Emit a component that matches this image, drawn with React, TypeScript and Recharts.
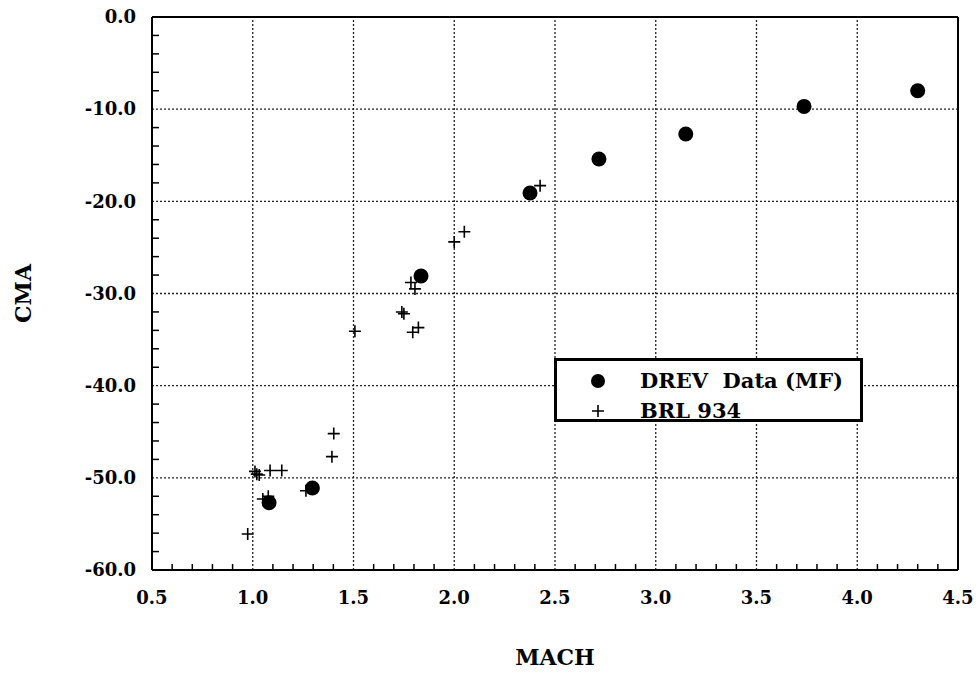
import React from "react";
import {
  Label,
  Legend,
  ReferenceLine,
  Scatter,
  ScatterChart,
  XAxis,
  YAxis,
} from "recharts";

// DREV measurements (filled circles)
const drevMach = [1.081, 1.296, 1.835, 2.376, 2.718, 3.149, 3.736, 4.3];
const drevCma = [-52.7, -51.1, -28.1, -19.1, -15.4, -12.7, -9.7, -8.0];

// BRL 934 points (plus markers)
const brlMach = [
  0.975, 1.011, 1.02, 1.032, 1.05, 1.077, 1.086, 1.144, 1.264, 1.393, 1.402,
  1.507, 1.74, 1.75, 1.785, 1.794, 1.805, 1.822, 2.0, 2.05, 2.426,
];
const brlCma = [
  -56.1, -49.3, -49.6, -49.7, -52.3, -52.0, -49.2, -49.2, -51.4, -47.7, -45.2,
  -34.1, -32.0, -32.2, -28.8, -34.2, -29.5, -33.7, -24.4, -23.3, -18.3,
];

const xMajorTicks = [0.5, 1.0, 1.5, 2.0, 2.5, 3.0, 3.5, 4.0, 4.5];
const yMajorTicks = [-60, -50, -40, -30, -20, -10, 0];
const xMinorTicks = Array.from({ length: 41 }, (_, i) => Math.round((0.5 + i * 0.1) * 10) / 10);
const yMinorTicks = Array.from({ length: 31 }, (_, i) => -60 + i * 2);

const drevData = drevMach.map((m, i) => ({ mach: m, cma: drevCma[i] }));
const brlData = brlMach.map((m, i) => ({ mach: m, cma: brlCma[i] }));

const font = "'DejaVu Serif', serif";
const ink = "#000";

const isMajor = (v: number, list: number[]) => list.some((t) => Math.abs(t - v) < 1e-6);

function XTick(props: any) {
  const { x, y, payload } = props;
  const v = payload.value as number;
  const major = isMajor(v, xMajorTicks);
  return (
    <g>
      {!major && <line x1={x} x2={x} y1={y} y2={y - 6} stroke={ink} strokeWidth={1.5} />}
      {major && (
        <text x={x} y={y + 28} dy="0.35em" textAnchor="middle" fontFamily={font} fontWeight="bold" fontSize={18} fill={ink}>
          {v.toFixed(1)}
        </text>
      )}
    </g>
  );
}

function YTick(props: any) {
  const { x, y, payload } = props;
  const v = payload.value as number;
  const major = isMajor(v, yMajorTicks);
  return (
    <g>
      {!major && <line x1={x} x2={x + 7} y1={y} y2={y} stroke={ink} strokeWidth={1.5} />}
      {major && (
        <text x={x - 16} y={y} dy="0.35em" textAnchor="end" fontFamily={font} fontWeight="bold" fontSize={18} fill={ink}>
          {v.toFixed(1)}
        </text>
      )}
    </g>
  );
}

const Dot = (p: any) => <circle cx={p.cx} cy={p.cy} r={7.5} fill={ink} />;

const Plus = (p: any) => (
  <path
    d={`M${p.cx - 6},${p.cy}H${p.cx + 6}M${p.cx},${p.cy - 6}V${p.cy + 6}`}
    stroke={ink}
    strokeWidth={1.6}
    fill="none"
  />
);

function LegendBox() {
  const row = (top: number): React.CSSProperties => ({
    position: "absolute",
    left: 0,
    top,
    height: 0,
    width: "100%",
  });
  const txt: React.CSSProperties = {
    position: "absolute",
    left: 83,
    top: -13,
    whiteSpace: "pre",
    fontFamily: font,
    fontWeight: "bold",
    fontSize: 21,
    lineHeight: "26px",
    color: ink,
  };
  return (
    <div
      style={{
        position: "relative",
        boxSizing: "border-box",
        width: 309,
        height: 64,
        border: "3px solid #000",
        background: "#fff",
      }}
    >
      <div style={row(20)}>
        <svg style={{ position: "absolute", left: 31, top: -10 }} width={20} height={20}>
          <circle cx={10} cy={10} r={7} fill={ink} />
        </svg>
        <span style={txt}>DREV  Data (MF)</span>
      </div>
      <div style={row(50)}>
        <svg style={{ position: "absolute", left: 31, top: -10 }} width={20} height={20}>
          <path d="M4,10H16M10,4V16" stroke={ink} strokeWidth={1.6} />
        </svg>
        <span style={txt}>BRL 934</span>
      </div>
    </div>
  );
}

export default function App() {
  return (
    <div style={{ position: "absolute", left: 0, top: 0, width: 979, height: 673, background: "#fff" }}>
      <ScatterChart width={979} height={673} margin={{ top: 17, right: 21, bottom: 0, left: 0 }}>
        <XAxis
          type="number"
          dataKey="mach"
          domain={[0.5, 4.5]}
          ticks={xMinorTicks}
          interval={0}
          height={103}
          tickSize={0}
          tickMargin={0}
          tickLine={false}
          axisLine={{ stroke: ink, strokeWidth: 2 }}
          tick={(p: any) => <XTick {...p} />}
          allowDataOverflow
        >
          <Label
            value="MACH"
            position="insideBottom"
            offset={8}
            style={{ fontFamily: font, fontWeight: "bold", fontSize: 22, fill: ink }}
          />
        </XAxis>
        <YAxis
          type="number"
          dataKey="cma"
          domain={[-60, 0]}
          ticks={yMinorTicks}
          interval={0}
          width={152}
          tickSize={0}
          tickMargin={0}
          tickLine={false}
          axisLine={{ stroke: ink, strokeWidth: 2 }}
          tick={(p: any) => <YTick {...p} />}
          allowDataOverflow
        >
          <Label
            value="CMA"
            angle={-90}
            position="insideLeft"
            offset={23}
            style={{ fontFamily: font, fontWeight: "bold", fontSize: 22, fill: ink, textAnchor: "middle" }}
          />
        </YAxis>

        {xMajorTicks.slice(1, -1).map((v) => (
          <ReferenceLine key={`gx${v}`} x={v} stroke="#222" strokeWidth={1.3} strokeDasharray="2 2" />
        ))}
        {yMajorTicks.slice(1, -1).map((v) => (
          <ReferenceLine key={`gy${v}`} y={v} stroke="#222" strokeWidth={1.3} strokeDasharray="2 2" />
        ))}
        <ReferenceLine x={4.5} stroke={ink} strokeWidth={2} />
        <ReferenceLine y={0} stroke={ink} strokeWidth={2} />

        <Scatter name="BRL 934" data={brlData} shape={Plus} isAnimationActive={false} />
        <Scatter name="DREV  Data (MF)" data={drevData} shape={Dot} isAnimationActive={false} />

        <Legend
          layout="vertical"
          verticalAlign="middle"
          align="center"
          wrapperStyle={{ left: 554, top: 358, width: 309, height: 64 }}
          content={() => <LegendBox />}
        />
      </ScatterChart>
    </div>
  );
}
